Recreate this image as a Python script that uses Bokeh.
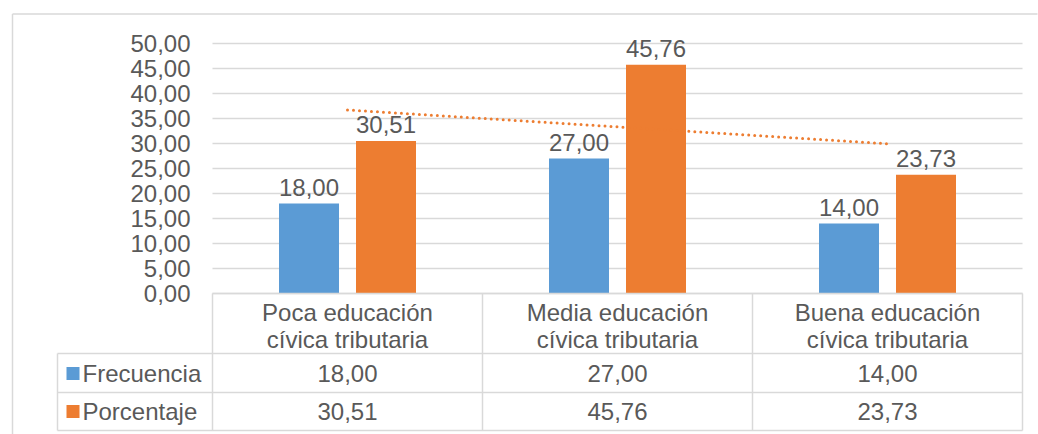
from bokeh.plotting import figure
from bokeh.models import Range1d
from bokeh.core.properties import value
from bokeh.embed import file_html
from bokeh.resources import INLINE
import numpy as np

# ---------------- data ----------------
categories = ["Poca educación\ncívica tributaria",
              "Media educación\ncívica tributaria",
              "Buena educación\ncívica tributaria"]
series_names = ["Frecuencia", "Porcentaje"]
frecuencia = [18.00, 27.00, 14.00]
porcentaje = [30.51, 45.76, 23.73]
y_ticks = [0, 5, 10, 15, 20, 25, 30, 35, 40, 45, 50]

# ---------------- style ----------------
BLUE = "#5B9BD5"
ORANGE = "#ED7D31"
TEXT = "#595959"
GRID = "#D9D9D9"
FONT = value("Liberation Sans")
FS = "24px"


def fmt(v):
    return f"{v:.2f}".replace(".", ",")


# pixel geometry of the picture -> data coordinates
PX_Y0, PX_PER_Y = 293.0, 5.0      # picture y of value 0, pixels per unit
PX_X05, PX_PER_X = 212.0, 270.0   # picture x of category boundary 0.5, pixels per category


def X(px):
    return 0.5 + (px - PX_X05) / PX_PER_X


def Y(py):
    return (PX_Y0 - py) / PX_PER_Y


W, H = 1038, 434
p = figure(width=W, height=H, output_backend="svg", toolbar_location=None,
           x_axis_location=None, y_axis_location=None,
           x_range=Range1d(X(0), X(W)), y_range=Range1d(Y(H), Y(0)),
           min_border_left=0, min_border_top=0, min_border_right=0, min_border_bottom=0)
p.xgrid.visible = False
p.ygrid.visible = False
p.outline_line_color = None
p.background_fill_color = "white"
p.border_fill_color = "white"

n = len(categories)
cx = np.arange(1, n + 1, dtype=float)

# outer chart-area border (top and left edges; the rest is cut off)
p.segment(x0=[X(12), X(12)], x1=[X(1037), X(12)], y0=[Y(13.5), Y(13.5)], y1=[Y(13.5), Y(H)],
          line_color=GRID, line_width=1.5)

# gridlines (value axis)
p.segment(x0=[0.5] * len(y_ticks), x1=[n + 0.5] * len(y_ticks), y0=y_ticks, y1=y_ticks,
          line_color=GRID, line_width=1.5)
# tick labels
p.text(x=[X(190)] * len(y_ticks), y=y_ticks, text=[fmt(t) for t in y_ticks],
       text_align="right", text_baseline="middle", text_font=FONT,
       text_font_size=FS, text_color=TEXT)

# bars
off, bw = 38.5 / PX_PER_X, 60 / PX_PER_X
p.vbar(x=cx - off, top=frecuencia, bottom=0, width=bw, fill_color=BLUE, line_color=None)
p.vbar(x=cx + off, top=porcentaje, bottom=0, width=bw, fill_color=ORANGE, line_color=None)

# linear trendline of Porcentaje (drawn beneath the labels)
slope, intercept = np.polyfit(cx, porcentaje, 1)
p.line(x=[cx[0], cx[-1]], y=[intercept + slope * cx[0], intercept + slope * cx[-1]],
       line_color=ORANGE, line_width=3, line_dash="0 6", line_cap="round")

# data labels
p.text(x=cx - off, y=frecuencia, text=[fmt(v) for v in frecuencia], y_offset=-16,
       text_align="center", text_baseline="alphabetic", text_font=FONT,
       text_font_size=FS, text_color=TEXT)
p.text(x=cx + off, y=porcentaje, text=[fmt(v) for v in porcentaje], y_offset=-16,
       text_align="center", text_baseline="alphabetic", text_font=FONT,
       text_font_size=FS, text_color=TEXT)

# ---------------- data table ----------------
row_lines = [PX_Y0, 353, 392, 430]
p.segment(x0=[0.5], x1=[n + 0.5], y0=[0], y1=[0], line_color=GRID, line_width=1.5)
p.segment(x0=[X(57)] * 3, x1=[n + 0.5] * 3, y0=[Y(r) for r in row_lines[1:]],
          y1=[Y(r) for r in row_lines[1:]], line_color=GRID, line_width=1.5)
vx = [0.5 + i for i in range(n + 1)]
p.segment(x0=vx, x1=vx, y0=[0] * len(vx), y1=[Y(430)] * len(vx), line_color=GRID, line_width=1.5)
p.segment(x0=[X(57)], x1=[X(57)], y0=[Y(353)], y1=[Y(430)], line_color=GRID, line_width=1.5)

# category labels (two lines)
line1 = [c.split("\n")[0] for c in categories]
line2 = [c.split("\n")[1] for c in categories]
p.text(x=cx, y=[Y(312)] * n, text=line1, text_align="center", text_baseline="middle",
       text_font=FONT, text_font_size=FS, text_color=TEXT)
p.text(x=cx, y=[Y(339)] * n, text=line2, text_align="center", text_baseline="middle",
       text_font=FONT, text_font_size=FS, text_color=TEXT)

# rows
row_centers = [Y(373), Y(411)]
for name, vals, col, yc in zip(series_names, [frecuencia, porcentaje], [BLUE, ORANGE], row_centers):
    p.text(x=cx, y=[yc] * n, text=[fmt(v) for v in vals], text_align="center",
           text_baseline="middle", text_font=FONT, text_font_size=FS, text_color=TEXT)
    p.rect(x=[X(72.5)], y=[yc], width=13 / PX_PER_X, height=13 / PX_PER_Y,
           fill_color=col, line_color=None)
    p.text(x=[X(82)], y=[yc], text=[name], text_align="left", text_baseline="middle",
           text_font=FONT, text_font_size=FS, text_color=TEXT)

open("out.html", "w").write(file_html(p, INLINE))
